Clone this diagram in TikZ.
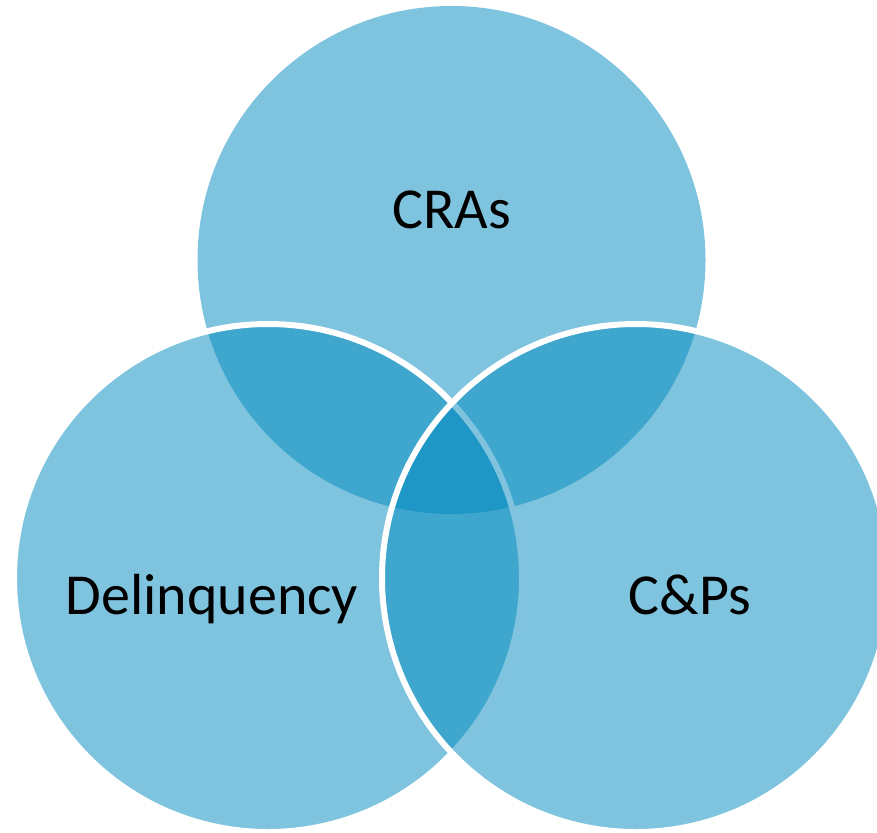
\documentclass[tikz,border=0pt]{standalone}
\usepackage{fontspec}
\setmainfont{Carlito}
\definecolor{vennblue}{RGB}{0,137,190}
\begin{document}
\begin{tikzpicture}[x=1pt,y=-1pt,
  venn/.style={fill=vennblue,fill opacity=0.5},
  vennrim/.style={venn,draw=white,line width=6pt,draw opacity=1},
  lbl/.style={anchor=base,font=\fontsize{58}{60}\selectfont,text=black,inner sep=0pt}]
  \useasboundingbox (0,0) rectangle (877,832);
  % three overlapping sets, the lower two with white rims
  \path[venn] (451.5,260) circle[radius=254];
  \path[vennrim] (268,578) circle[radius=254];
  \path[vennrim] (636,578) circle[radius=254];
  \node[lbl] (cras) at (451.5,228) {CRAs};
  \node[lbl] (delinq) at (212,614) {Delinquency};
  \node[lbl] (cps) at (690,614) {C\&Ps};
\end{tikzpicture}
\end{document}
